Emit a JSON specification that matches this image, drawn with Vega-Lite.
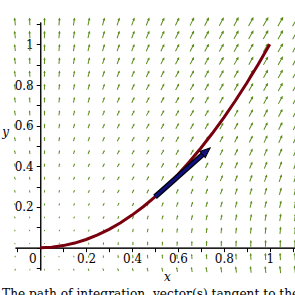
{
"$schema":"https://vega.github.io/schema/vega-lite/v6.json",
"width":280,"height":248,
"autosize":"none",
"padding":{"left":15,"top":22,"right":0,"bottom":25},
"config":{"view":{"stroke":null},"font":"DejaVu Serif"},
"title":{"text":"The path of integration, vector(s) tangent to the path, and the vector field","orient":"bottom","anchor":"start","frame":"group","dx":-13,"offset":5,"font":"DejaVu Serif","fontSize":12.2,"fontWeight":"normal","color":"black","baseline":"top"},
"resolve":{"axis":{"x":"independent","y":"independent"}},
"layer":[
{"data":{"values":[
{"x":-0.11,"y":-0.11,"a":29.5,"m":0.0271},{"x":-0.0458,"y":-0.11,"a":21.8,"m":0.0151},{"x":0.0184,"y":-0.11,"a":-10.4,"m":0.0126},{"x":0.0826,"y":-0.11,"a":-28.5,"m":0.021},{"x":0.1468,"y":-0.11,"a":-28.5,"m":0.0373},{"x":0.2111,"y":-0.11,"a":-24.9,"m":0.0612},{"x":0.2753,"y":-0.11,"a":-21.3,"m":0.093},{"x":0.3395,"y":-0.11,"a":-18.3,"m":0.1327},{"x":0.4037,"y":-0.11,"a":-15.9,"m":0.1803},{"x":0.4679,"y":-0.11,"a":-14.1,"m":0.2366},{"x":0.5321,"y":-0.11,"a":-12.6,"m":0.3008},{"x":0.5963,"y":-0.11,"a":-11.4,"m":0.3736},{"x":0.6605,"y":-0.11,"a":-10.4,"m":0.4542},{"x":0.7247,"y":-0.11,"a":-9.5,"m":0.5432},{"x":0.7889,"y":-0.11,"a":-8.8,"m":0.6402},{"x":0.8532,"y":-0.11,"a":-8.2,"m":0.746},{"x":0.9174,"y":-0.11,"a":-7.6,"m":0.8597},{"x":0.9816,"y":-0.11,"a":-7.1,"m":0.9815},{"x":1.0458,"y":-0.11,"a":-6.7,"m":1.1116},{"x":1.11,"y":-0.11,"a":-6.3,"m":1.2504},
{"x":-0.11,"y":-0.0458,"a":21.8,"m":0.0151},{"x":-0.0458,"y":-0.0458,"a":29.5,"m":0.0047},{"x":0.0184,"y":-0.0458,"a":-21.4,"m":0.0026},{"x":0.0826,"y":-0.0458,"a":-25.7,"m":0.0097},{"x":0.1468,"y":-0.0458,"a":-17.8,"m":0.0246},{"x":0.2111,"y":-0.0458,"a":-13.2,"m":0.0476},{"x":0.2753,"y":-0.0458,"a":-10.3,"m":0.0789},{"x":0.3395,"y":-0.0458,"a":-8.5,"m":0.1184},{"x":0.4037,"y":-0.0458,"a":-7.2,"m":0.1662},{"x":0.4679,"y":-0.0458,"a":-6.3,"m":0.2221},{"x":0.5321,"y":-0.0458,"a":-5.5,"m":0.2863},{"x":0.5963,"y":-0.0458,"a":-4.9,"m":0.3587},{"x":0.6605,"y":-0.0458,"a":-4.5,"m":0.4394},{"x":0.7247,"y":-0.0458,"a":-4.1,"m":0.5283},{"x":0.7889,"y":-0.0458,"a":-3.8,"m":0.6255},{"x":0.8532,"y":-0.0458,"a":-3.5,"m":0.7311},{"x":0.9174,"y":-0.0458,"a":-3.2,"m":0.8447},{"x":0.9816,"y":-0.0458,"a":-3.0,"m":0.9667},{"x":1.0458,"y":-0.0458,"a":-2.8,"m":1.097},{"x":1.11,"y":-0.0458,"a":-2.7,"m":1.2353},
{"x":-0.11,"y":0.0184,"a":-10.4,"m":0.0126},{"x":-0.0458,"y":0.0184,"a":-21.4,"m":0.0026},{"x":0.0184,"y":0.0184,"a":29.5,"m":0.0008},{"x":0.0826,"y":0.0184,"a":13.5,"m":0.0073},{"x":0.1468,"y":0.0184,"a":8.0,"m":0.022},{"x":0.2111,"y":0.0184,"a":5.6,"m":0.045},{"x":0.2753,"y":0.0184,"a":4.3,"m":0.0763},{"x":0.3395,"y":0.0184,"a":3.5,"m":0.1158},{"x":0.4037,"y":0.0184,"a":3.0,"m":0.1635},{"x":0.4679,"y":0.0184,"a":2.5,"m":0.2195},{"x":0.5321,"y":0.0184,"a":2.2,"m":0.2835},{"x":0.5963,"y":0.0184,"a":2.0,"m":0.3559},{"x":0.6605,"y":0.0184,"a":1.8,"m":0.4366},{"x":0.7247,"y":0.0184,"a":1.6,"m":0.5255},{"x":0.7889,"y":0.0184,"a":1.5,"m":0.6227},{"x":0.8532,"y":0.0184,"a":1.4,"m":0.7283},{"x":0.9174,"y":0.0184,"a":1.3,"m":0.842},{"x":0.9816,"y":0.0184,"a":1.2,"m":0.9639},{"x":1.0458,"y":0.0184,"a":1.1,"m":1.094},{"x":1.11,"y":0.0184,"a":1.1,"m":1.2324},
{"x":-0.11,"y":0.0826,"a":-28.5,"m":0.021},{"x":-0.0458,"y":0.0826,"a":-25.7,"m":0.0097},{"x":0.0184,"y":0.0826,"a":13.5,"m":0.0073},{"x":0.0826,"y":0.0826,"a":29.5,"m":0.0152},{"x":0.1468,"y":0.0826,"a":25.9,"m":0.0308},{"x":0.2111,"y":0.0826,"a":21.0,"m":0.0542},{"x":0.2753,"y":0.0826,"a":17.3,"m":0.0857},{"x":0.3395,"y":0.0826,"a":14.6,"m":0.1253},{"x":0.4037,"y":0.0826,"a":12.5,"m":0.173},{"x":0.4679,"y":0.0826,"a":11.0,"m":0.2291},{"x":0.5321,"y":0.0826,"a":9.7,"m":0.2934},{"x":0.5963,"y":0.0826,"a":8.7,"m":0.3657},{"x":0.6605,"y":0.0826,"a":7.9,"m":0.4466},{"x":0.7247,"y":0.0826,"a":7.2,"m":0.5353},{"x":0.7889,"y":0.0826,"a":6.7,"m":0.633},{"x":0.8532,"y":0.0826,"a":6.2,"m":0.7382},{"x":0.9174,"y":0.0826,"a":5.8,"m":0.8519},{"x":0.9816,"y":0.0826,"a":5.4,"m":0.9738},{"x":1.0458,"y":0.0826,"a":5.1,"m":1.1039},{"x":1.11,"y":0.0826,"a":4.8,"m":1.2423},
{"x":-0.11,"y":0.1468,"a":-28.5,"m":0.0373},{"x":-0.0458,"y":0.1468,"a":-17.8,"m":0.0246},{"x":0.0184,"y":0.1468,"a":8.0,"m":0.022},{"x":0.0826,"y":0.1468,"a":25.9,"m":0.0308},{"x":0.1468,"y":0.1468,"a":29.5,"m":0.0482},{"x":0.2111,"y":0.1468,"a":27.9,"m":0.0729},{"x":0.2753,"y":0.1468,"a":25.2,"m":0.1053},{"x":0.3395,"y":0.1468,"a":22.4,"m":0.1457},{"x":0.4037,"y":0.1468,"a":20.0,"m":0.1936},{"x":0.4679,"y":0.1468,"a":17.9,"m":0.2501},{"x":0.5321,"y":0.1468,"a":16.1,"m":0.3144},{"x":0.5963,"y":0.1468,"a":14.7,"m":0.3866},{"x":0.6605,"y":0.1468,"a":13.5,"m":0.4679},{"x":0.7247,"y":0.1468,"a":12.5,"m":0.5566},{"x":0.7889,"y":0.1468,"a":11.6,"m":0.6542},{"x":0.8532,"y":0.1468,"a":10.7,"m":0.76},{"x":0.9174,"y":0.1468,"a":10.0,"m":0.8735},{"x":0.9816,"y":0.1468,"a":9.4,"m":0.9959},{"x":1.0458,"y":0.1468,"a":8.8,"m":1.1264},{"x":1.11,"y":0.1468,"a":8.3,"m":1.2649},
{"x":-0.11,"y":0.2111,"a":-24.9,"m":0.0612},{"x":-0.0458,"y":0.2111,"a":-13.2,"m":0.0476},{"x":0.0184,"y":0.2111,"a":5.6,"m":0.045},{"x":0.0826,"y":0.2111,"a":21.0,"m":0.0542},{"x":0.1468,"y":0.2111,"a":27.9,"m":0.0729},{"x":0.2111,"y":0.2111,"a":29.5,"m":0.0996},{"x":0.2753,"y":0.2111,"a":28.7,"m":0.1336},{"x":0.3395,"y":0.2111,"a":26.9,"m":0.1752},{"x":0.4037,"y":0.2111,"a":24.9,"m":0.2243},{"x":0.4679,"y":0.2111,"a":23.0,"m":0.2811},{"x":0.5321,"y":0.2111,"a":21.2,"m":0.3464},{"x":0.5963,"y":0.2111,"a":19.7,"m":0.4193},{"x":0.6605,"y":0.2111,"a":18.1,"m":0.5005},{"x":0.7247,"y":0.2111,"a":16.9,"m":0.5897},{"x":0.7889,"y":0.2111,"a":15.8,"m":0.6869},{"x":0.8532,"y":0.2111,"a":14.8,"m":0.7926},{"x":0.9174,"y":0.2111,"a":13.9,"m":0.9066},{"x":0.9816,"y":0.2111,"a":13.1,"m":1.0283},{"x":1.0458,"y":0.2111,"a":12.4,"m":1.1587},{"x":1.11,"y":0.2111,"a":11.8,"m":1.2984},
{"x":-0.11,"y":0.2753,"a":-21.3,"m":0.093},{"x":-0.0458,"y":0.2753,"a":-10.3,"m":0.0789},{"x":0.0184,"y":0.2753,"a":4.3,"m":0.0763},{"x":0.0826,"y":0.2753,"a":17.3,"m":0.0857},{"x":0.1468,"y":0.2753,"a":25.2,"m":0.1053},{"x":0.2111,"y":0.2753,"a":28.7,"m":0.1336},{"x":0.2753,"y":0.2753,"a":29.5,"m":0.1695},{"x":0.3395,"y":0.2753,"a":28.9,"m":0.2126},{"x":0.4037,"y":0.2753,"a":27.7,"m":0.2631},{"x":0.4679,"y":0.2753,"a":26.4,"m":0.3215},{"x":0.5321,"y":0.2753,"a":24.8,"m":0.3876},{"x":0.5963,"y":0.2753,"a":23.3,"m":0.4616},{"x":0.6605,"y":0.2753,"a":21.9,"m":0.5433},{"x":0.7247,"y":0.2753,"a":20.5,"m":0.6334},{"x":0.7889,"y":0.2753,"a":19.5,"m":0.731},{"x":0.8532,"y":0.2753,"a":18.3,"m":0.8367},{"x":0.9174,"y":0.2753,"a":17.3,"m":0.9514},{"x":0.9816,"y":0.2753,"a":16.4,"m":1.0736},{"x":1.0458,"y":0.2753,"a":15.6,"m":1.2034},{"x":1.11,"y":0.2753,"a":14.8,"m":1.3419},
{"x":-0.11,"y":0.3395,"a":-18.3,"m":0.1327},{"x":-0.0458,"y":0.3395,"a":-8.5,"m":0.1184},{"x":0.0184,"y":0.3395,"a":3.5,"m":0.1158},{"x":0.0826,"y":0.3395,"a":14.6,"m":0.1253},{"x":0.1468,"y":0.3395,"a":22.4,"m":0.1457},{"x":0.2111,"y":0.3395,"a":26.9,"m":0.1752},{"x":0.2753,"y":0.3395,"a":28.9,"m":0.2126},{"x":0.3395,"y":0.3395,"a":29.5,"m":0.2577},{"x":0.4037,"y":0.3395,"a":29.2,"m":0.3099},{"x":0.4679,"y":0.3395,"a":28.3,"m":0.3699},{"x":0.5321,"y":0.3395,"a":27.2,"m":0.437},{"x":0.5963,"y":0.3395,"a":26.0,"m":0.5123},{"x":0.6605,"y":0.3395,"a":24.8,"m":0.5951},{"x":0.7247,"y":0.3395,"a":23.5,"m":0.6859},{"x":0.7889,"y":0.3395,"a":22.4,"m":0.7848},{"x":0.8532,"y":0.3395,"a":21.2,"m":0.8921},{"x":0.9174,"y":0.3395,"a":20.2,"m":1.0066},{"x":0.9816,"y":0.3395,"a":19.4,"m":1.1284},{"x":1.0458,"y":0.3395,"a":18.4,"m":1.2597},{"x":1.11,"y":0.3395,"a":17.6,"m":1.3986},
{"x":-0.11,"y":0.4037,"a":-15.9,"m":0.1803},{"x":-0.0458,"y":0.4037,"a":-7.2,"m":0.1662},{"x":0.0184,"y":0.4037,"a":3.0,"m":0.1635},{"x":0.0826,"y":0.4037,"a":12.5,"m":0.173},{"x":0.1468,"y":0.4037,"a":20.0,"m":0.1936},{"x":0.2111,"y":0.4037,"a":24.9,"m":0.2243},{"x":0.2753,"y":0.4037,"a":27.7,"m":0.2631},{"x":0.3395,"y":0.4037,"a":29.2,"m":0.3099},{"x":0.4037,"y":0.4037,"a":29.5,"m":0.3644},{"x":0.4679,"y":0.4037,"a":29.2,"m":0.4258},{"x":0.5321,"y":0.4037,"a":28.6,"m":0.4947},{"x":0.5963,"y":0.4037,"a":27.7,"m":0.5714},{"x":0.6605,"y":0.4037,"a":26.8,"m":0.6556},{"x":0.7247,"y":0.4037,"a":25.8,"m":0.748},{"x":0.7889,"y":0.4037,"a":24.7,"m":0.8474},{"x":0.8532,"y":0.4037,"a":23.6,"m":0.9551},{"x":0.9174,"y":0.4037,"a":22.7,"m":1.0709},{"x":0.9816,"y":0.4037,"a":21.7,"m":1.1941},{"x":1.0458,"y":0.4037,"a":20.8,"m":1.327},{"x":1.11,"y":0.4037,"a":20.0,"m":1.4662},
{"x":-0.11,"y":0.4679,"a":-14.1,"m":0.2366},{"x":-0.0458,"y":0.4679,"a":-6.3,"m":0.2221},{"x":0.0184,"y":0.4679,"a":2.5,"m":0.2195},{"x":0.0826,"y":0.4679,"a":11.0,"m":0.2291},{"x":0.1468,"y":0.4679,"a":17.9,"m":0.2501},{"x":0.2111,"y":0.4679,"a":23.0,"m":0.2811},{"x":0.2753,"y":0.4679,"a":26.4,"m":0.3215},{"x":0.3395,"y":0.4679,"a":28.3,"m":0.3699},{"x":0.4037,"y":0.4679,"a":29.2,"m":0.4258},{"x":0.4679,"y":0.4679,"a":29.5,"m":0.4895},{"x":0.5321,"y":0.4679,"a":29.3,"m":0.5603},{"x":0.5963,"y":0.4679,"a":28.8,"m":0.6383},{"x":0.6605,"y":0.4679,"a":28.1,"m":0.724},{"x":0.7247,"y":0.4679,"a":27.3,"m":0.8178},{"x":0.7889,"y":0.4679,"a":26.5,"m":0.9187},{"x":0.8532,"y":0.4679,"a":25.6,"m":1.0274},{"x":0.9174,"y":0.4679,"a":24.7,"m":1.1443},{"x":0.9816,"y":0.4679,"a":23.8,"m":1.2688},{"x":1.0458,"y":0.4679,"a":22.9,"m":1.4006},{"x":1.11,"y":0.4679,"a":22.0,"m":1.541},
{"x":-0.11,"y":0.5321,"a":-12.6,"m":0.3008},{"x":-0.0458,"y":0.5321,"a":-5.5,"m":0.2863},{"x":0.0184,"y":0.5321,"a":2.2,"m":0.2835},{"x":0.0826,"y":0.5321,"a":9.7,"m":0.2934},{"x":0.1468,"y":0.5321,"a":16.1,"m":0.3144},{"x":0.2111,"y":0.5321,"a":21.2,"m":0.3464},{"x":0.2753,"y":0.5321,"a":24.8,"m":0.3876},{"x":0.3395,"y":0.5321,"a":27.2,"m":0.437},{"x":0.4037,"y":0.5321,"a":28.6,"m":0.4947},{"x":0.4679,"y":0.5321,"a":29.3,"m":0.5603},{"x":0.5321,"y":0.5321,"a":29.5,"m":0.6331},{"x":0.5963,"y":0.5321,"a":29.4,"m":0.7134},{"x":0.6605,"y":0.5321,"a":28.9,"m":0.8},{"x":0.7247,"y":0.5321,"a":28.4,"m":0.8948},{"x":0.7889,"y":0.5321,"a":27.7,"m":0.9969},{"x":0.8532,"y":0.5321,"a":26.9,"m":1.1071},{"x":0.9174,"y":0.5321,"a":26.2,"m":1.226},{"x":0.9816,"y":0.5321,"a":25.4,"m":1.3514},{"x":1.0458,"y":0.5321,"a":24.6,"m":1.4842},{"x":1.11,"y":0.5321,"a":23.8,"m":1.6258},
{"x":-0.11,"y":0.5963,"a":-11.4,"m":0.3736},{"x":-0.0458,"y":0.5963,"a":-4.9,"m":0.3587},{"x":0.0184,"y":0.5963,"a":2.0,"m":0.3559},{"x":0.0826,"y":0.5963,"a":8.7,"m":0.3657},{"x":0.1468,"y":0.5963,"a":14.7,"m":0.3866},{"x":0.2111,"y":0.5963,"a":19.7,"m":0.4193},{"x":0.2753,"y":0.5963,"a":23.3,"m":0.4616},{"x":0.3395,"y":0.5963,"a":26.0,"m":0.5123},{"x":0.4037,"y":0.5963,"a":27.7,"m":0.5714},{"x":0.4679,"y":0.5963,"a":28.8,"m":0.6383},{"x":0.5321,"y":0.5963,"a":29.4,"m":0.7134},{"x":0.5963,"y":0.5963,"a":29.5,"m":0.7951},{"x":0.6605,"y":0.5963,"a":29.4,"m":0.8845},{"x":0.7247,"y":0.5963,"a":29.0,"m":0.9803},{"x":0.7889,"y":0.5963,"a":28.5,"m":1.0845},{"x":0.8532,"y":0.5963,"a":28.0,"m":1.1962},{"x":0.9174,"y":0.5963,"a":27.4,"m":1.3157},{"x":0.9816,"y":0.5963,"a":26.7,"m":1.4431},{"x":1.0458,"y":0.5963,"a":26.0,"m":1.5783},{"x":1.11,"y":0.5963,"a":25.2,"m":1.7194},
{"x":-0.11,"y":0.6605,"a":-10.4,"m":0.4542},{"x":-0.0458,"y":0.6605,"a":-4.5,"m":0.4394},{"x":0.0184,"y":0.6605,"a":1.8,"m":0.4366},{"x":0.0826,"y":0.6605,"a":7.9,"m":0.4466},{"x":0.1468,"y":0.6605,"a":13.5,"m":0.4679},{"x":0.2111,"y":0.6605,"a":18.1,"m":0.5005},{"x":0.2753,"y":0.6605,"a":21.9,"m":0.5433},{"x":0.3395,"y":0.6605,"a":24.8,"m":0.5951},{"x":0.4037,"y":0.6605,"a":26.8,"m":0.6556},{"x":0.4679,"y":0.6605,"a":28.1,"m":0.724},{"x":0.5321,"y":0.6605,"a":28.9,"m":0.8},{"x":0.5963,"y":0.6605,"a":29.4,"m":0.8845},{"x":0.6605,"y":0.6605,"a":29.5,"m":0.9755},{"x":0.7247,"y":0.6605,"a":29.4,"m":1.0739},{"x":0.7889,"y":0.6605,"a":29.1,"m":1.1793},{"x":0.8532,"y":0.6605,"a":28.7,"m":1.2923},{"x":0.9174,"y":0.6605,"a":28.2,"m":1.4133},{"x":0.9816,"y":0.6605,"a":27.7,"m":1.5412},{"x":1.0458,"y":0.6605,"a":27.1,"m":1.6784},{"x":1.11,"y":0.6605,"a":26.5,"m":1.8218},
{"x":-0.11,"y":0.7247,"a":-9.5,"m":0.5432},{"x":-0.0458,"y":0.7247,"a":-4.1,"m":0.5283},{"x":0.0184,"y":0.7247,"a":1.6,"m":0.5255},{"x":0.0826,"y":0.7247,"a":7.2,"m":0.5353},{"x":0.1468,"y":0.7247,"a":12.5,"m":0.5566},{"x":0.2111,"y":0.7247,"a":16.9,"m":0.5897},{"x":0.2753,"y":0.7247,"a":20.5,"m":0.6334},{"x":0.3395,"y":0.7247,"a":23.5,"m":0.6859},{"x":0.4037,"y":0.7247,"a":25.8,"m":0.748},{"x":0.4679,"y":0.7247,"a":27.3,"m":0.8178},{"x":0.5321,"y":0.7247,"a":28.4,"m":0.8948},{"x":0.5963,"y":0.7247,"a":29.0,"m":0.9803},{"x":0.6605,"y":0.7247,"a":29.4,"m":1.0739},{"x":0.7247,"y":0.7247,"a":29.5,"m":1.1743},{"x":0.7889,"y":0.7247,"a":29.4,"m":1.2818},{"x":0.8532,"y":0.7247,"a":29.2,"m":1.3973},{"x":0.9174,"y":0.7247,"a":28.8,"m":1.5185},{"x":0.9816,"y":0.7247,"a":28.4,"m":1.648},{"x":1.0458,"y":0.7247,"a":27.9,"m":1.7856},{"x":1.11,"y":0.7247,"a":27.4,"m":1.933},
{"x":-0.11,"y":0.7889,"a":-8.8,"m":0.6402},{"x":-0.0458,"y":0.7889,"a":-3.8,"m":0.6255},{"x":0.0184,"y":0.7889,"a":1.5,"m":0.6227},{"x":0.0826,"y":0.7889,"a":6.7,"m":0.633},{"x":0.1468,"y":0.7889,"a":11.6,"m":0.6542},{"x":0.2111,"y":0.7889,"a":15.8,"m":0.6869},{"x":0.2753,"y":0.7889,"a":19.5,"m":0.731},{"x":0.3395,"y":0.7889,"a":22.4,"m":0.7848},{"x":0.4037,"y":0.7889,"a":24.7,"m":0.8474},{"x":0.4679,"y":0.7889,"a":26.5,"m":0.9187},{"x":0.5321,"y":0.7889,"a":27.7,"m":0.9969},{"x":0.5963,"y":0.7889,"a":28.5,"m":1.0845},{"x":0.6605,"y":0.7889,"a":29.1,"m":1.1793},{"x":0.7247,"y":0.7889,"a":29.4,"m":1.2818},{"x":0.7889,"y":0.7889,"a":29.5,"m":1.3916},{"x":0.8532,"y":0.7889,"a":29.4,"m":1.5083},{"x":0.9174,"y":0.7889,"a":29.2,"m":1.6323},{"x":0.9816,"y":0.7889,"a":28.9,"m":1.7635},{"x":1.0458,"y":0.7889,"a":28.5,"m":1.9031},{"x":1.11,"y":0.7889,"a":28.1,"m":2.0492},
{"x":-0.11,"y":0.8532,"a":-8.2,"m":0.746},{"x":-0.0458,"y":0.8532,"a":-3.5,"m":0.7311},{"x":0.0184,"y":0.8532,"a":1.4,"m":0.7283},{"x":0.0826,"y":0.8532,"a":6.2,"m":0.7382},{"x":0.1468,"y":0.8532,"a":10.7,"m":0.76},{"x":0.2111,"y":0.8532,"a":14.8,"m":0.7926},{"x":0.2753,"y":0.8532,"a":18.3,"m":0.8367},{"x":0.3395,"y":0.8532,"a":21.2,"m":0.8921},{"x":0.4037,"y":0.8532,"a":23.6,"m":0.9551},{"x":0.4679,"y":0.8532,"a":25.6,"m":1.0274},{"x":0.5321,"y":0.8532,"a":26.9,"m":1.1071},{"x":0.5963,"y":0.8532,"a":28.0,"m":1.1962},{"x":0.6605,"y":0.8532,"a":28.7,"m":1.2923},{"x":0.7247,"y":0.8532,"a":29.2,"m":1.3973},{"x":0.7889,"y":0.8532,"a":29.4,"m":1.5083},{"x":0.8532,"y":0.8532,"a":29.5,"m":1.6277},{"x":0.9174,"y":0.8532,"a":29.5,"m":1.7532},{"x":0.9816,"y":0.8532,"a":29.3,"m":1.886},{"x":1.0458,"y":0.8532,"a":29.0,"m":2.0275},{"x":1.11,"y":0.8532,"a":28.7,"m":2.1757},
{"x":-0.11,"y":0.9174,"a":-7.6,"m":0.8597},{"x":-0.0458,"y":0.9174,"a":-3.2,"m":0.8447},{"x":0.0184,"y":0.9174,"a":1.3,"m":0.842},{"x":0.0826,"y":0.9174,"a":5.8,"m":0.8519},{"x":0.1468,"y":0.9174,"a":10.0,"m":0.8735},{"x":0.2111,"y":0.9174,"a":13.9,"m":0.9066},{"x":0.2753,"y":0.9174,"a":17.3,"m":0.9514},{"x":0.3395,"y":0.9174,"a":20.2,"m":1.0066},{"x":0.4037,"y":0.9174,"a":22.7,"m":1.0709},{"x":0.4679,"y":0.9174,"a":24.7,"m":1.1443},{"x":0.5321,"y":0.9174,"a":26.2,"m":1.226},{"x":0.5963,"y":0.9174,"a":27.4,"m":1.3157},{"x":0.6605,"y":0.9174,"a":28.2,"m":1.4133},{"x":0.7247,"y":0.9174,"a":28.8,"m":1.5185},{"x":0.7889,"y":0.9174,"a":29.2,"m":1.6323},{"x":0.8532,"y":0.9174,"a":29.5,"m":1.7532},{"x":0.9174,"y":0.9174,"a":29.5,"m":1.8819},{"x":0.9816,"y":0.9174,"a":29.5,"m":2.0164},{"x":1.0458,"y":0.9174,"a":29.3,"m":2.1598},{"x":1.11,"y":0.9174,"a":29.1,"m":2.3081},
{"x":-0.11,"y":0.9816,"a":-7.1,"m":0.9815},{"x":-0.0458,"y":0.9816,"a":-3.0,"m":0.9667},{"x":0.0184,"y":0.9816,"a":1.2,"m":0.9639},{"x":0.0826,"y":0.9816,"a":5.4,"m":0.9738},{"x":0.1468,"y":0.9816,"a":9.4,"m":0.9959},{"x":0.2111,"y":0.9816,"a":13.1,"m":1.0283},{"x":0.2753,"y":0.9816,"a":16.4,"m":1.0736},{"x":0.3395,"y":0.9816,"a":19.4,"m":1.1284},{"x":0.4037,"y":0.9816,"a":21.7,"m":1.1941},{"x":0.4679,"y":0.9816,"a":23.8,"m":1.2688},{"x":0.5321,"y":0.9816,"a":25.4,"m":1.3514},{"x":0.5963,"y":0.9816,"a":26.7,"m":1.4431},{"x":0.6605,"y":0.9816,"a":27.7,"m":1.5412},{"x":0.7247,"y":0.9816,"a":28.4,"m":1.648},{"x":0.7889,"y":0.9816,"a":28.9,"m":1.7635},{"x":0.8532,"y":0.9816,"a":29.3,"m":1.886},{"x":0.9174,"y":0.9816,"a":29.5,"m":2.0164},{"x":0.9816,"y":0.9816,"a":29.5,"m":2.1545},{"x":1.0458,"y":0.9816,"a":29.5,"m":2.298},{"x":1.11,"y":0.9816,"a":29.3,"m":2.4503},
{"x":-0.11,"y":1.0458,"a":-6.7,"m":1.1116},{"x":-0.0458,"y":1.0458,"a":-2.8,"m":1.097},{"x":0.0184,"y":1.0458,"a":1.1,"m":1.094},{"x":0.0826,"y":1.0458,"a":5.1,"m":1.1039},{"x":0.1468,"y":1.0458,"a":8.8,"m":1.1264},{"x":0.2111,"y":1.0458,"a":12.4,"m":1.1587},{"x":0.2753,"y":1.0458,"a":15.6,"m":1.2034},{"x":0.3395,"y":1.0458,"a":18.4,"m":1.2597},{"x":0.4037,"y":1.0458,"a":20.8,"m":1.327},{"x":0.4679,"y":1.0458,"a":22.9,"m":1.4006},{"x":0.5321,"y":1.0458,"a":24.6,"m":1.4842},{"x":0.5963,"y":1.0458,"a":26.0,"m":1.5783},{"x":0.6605,"y":1.0458,"a":27.1,"m":1.6784},{"x":0.7247,"y":1.0458,"a":27.9,"m":1.7856},{"x":0.7889,"y":1.0458,"a":28.5,"m":1.9031},{"x":0.8532,"y":1.0458,"a":29.0,"m":2.0275},{"x":0.9174,"y":1.0458,"a":29.3,"m":2.1598},{"x":0.9816,"y":1.0458,"a":29.5,"m":2.298},{"x":1.0458,"y":1.0458,"a":29.5,"m":2.4455},{"x":1.11,"y":1.0458,"a":29.5,"m":2.5979},
{"x":-0.11,"y":1.11,"a":-6.3,"m":1.2504},{"x":-0.0458,"y":1.11,"a":-2.7,"m":1.2353},{"x":0.0184,"y":1.11,"a":1.1,"m":1.2324},{"x":0.0826,"y":1.11,"a":4.8,"m":1.2423},{"x":0.1468,"y":1.11,"a":8.3,"m":1.2649},{"x":0.2111,"y":1.11,"a":11.8,"m":1.2984},{"x":0.2753,"y":1.11,"a":14.8,"m":1.3419},{"x":0.3395,"y":1.11,"a":17.6,"m":1.3986},{"x":0.4037,"y":1.11,"a":20.0,"m":1.4662},{"x":0.4679,"y":1.11,"a":22.0,"m":1.541},{"x":0.5321,"y":1.11,"a":23.8,"m":1.6258},{"x":0.5963,"y":1.11,"a":25.2,"m":1.7194},{"x":0.6605,"y":1.11,"a":26.5,"m":1.8218},{"x":0.7247,"y":1.11,"a":27.4,"m":1.933},{"x":0.7889,"y":1.11,"a":28.1,"m":2.0492},{"x":0.8532,"y":1.11,"a":28.7,"m":2.1757},{"x":0.9174,"y":1.11,"a":29.1,"m":2.3081},{"x":0.9816,"y":1.11,"a":29.3,"m":2.4503},{"x":1.0458,"y":1.11,"a":29.5,"m":2.5979},{"x":1.11,"y":1.11,"a":29.5,"m":2.755}
]},
"mark":{"type":"point","shape":"M0,1L0,-1M-0.25,-0.5L0,-1L0.25,-0.5","filled":false,"color":"#5b8c1a","strokeWidth":1,"opacity":1},
"encoding":{
"x":{"field":"x","type":"quantitative","scale":{"domain":[-0.11,1.11],"nice":false,"zero":false},
"axis":{"orient":"bottom","offset":-22.35,"values":[0,0.2,0.4,0.6,0.8,1],"format":".1~f","labelOffset":{"condition":{"test":"datum.value == 0","value":-8},"value":0},"tickSize":4,"labelPadding":2,"labelFont":"DejaVu Serif","labelFontSize":12,"labelColor":"black","domainColor":"black","tickColor":"black","grid":false,"labelOverlap":false,"labelFlush":false,"title":"x","titleFont":"DejaVu Serif","titleFontStyle":"italic","titleFontWeight":"normal","titleFontSize":12,"titleColor":"black","titleX":152,"titleY":33,"titleAlign":"center","titleBaseline":"alphabetic"}},
"y":{"field":"y","type":"quantitative","scale":{"domain":[-0.11,1.11],"nice":false,"zero":false},
"axis":{"orient":"left","offset":-25.25,"values":[0.2,0.4,0.6,0.8,1],"format":".1~f","tickSize":4,"labelPadding":3,"labelFont":"DejaVu Serif","labelFontSize":12,"labelColor":"black","domainColor":"black","tickColor":"black","grid":false,"labelOverlap":false,"labelFlush":false,"title":"y","titleAngle":0,"titleFont":"DejaVu Serif","titleFontStyle":"italic","titleFontWeight":"normal","titleFontSize":12,"titleColor":"black","titleX":-35,"titleY":113,"titleAlign":"center","titleBaseline":"alphabetic"}},
"angle":{"field":"a","type":"quantitative","scale":null},
"size":{"field":"m","type":"quantitative","scale":{"domain":[0,2.755],"range":[0,100]},"legend":null}
}},
{"data":{"values":[{"x":0,"y":0},{"x":0.05,"y":0.0025},{"x":0.1,"y":0.01},{"x":0.15,"y":0.0225},{"x":0.2,"y":0.04},{"x":0.25,"y":0.0625},{"x":0.3,"y":0.09},{"x":0.35,"y":0.1225},{"x":0.4,"y":0.16},{"x":0.45,"y":0.2025},{"x":0.5,"y":0.25},{"x":0.55,"y":0.3025},{"x":0.6,"y":0.36},{"x":0.65,"y":0.4225},{"x":0.7,"y":0.49},{"x":0.75,"y":0.5625},{"x":0.8,"y":0.64},{"x":0.85,"y":0.7225},{"x":0.9,"y":0.81},{"x":0.95,"y":0.9025},{"x":1,"y":1}]},
"mark":{"type":"line","color":"#78000E","strokeWidth":3},
"encoding":{"x":{"field":"x","type":"quantitative","axis":{"orient":"bottom","offset":-22.35,"values":[-0.1,0.1,0.3,0.5,0.7,0.9,1.1],"labels":false,"tickSize":4,"domainColor":"black","tickColor":"black","grid":false,"title":null}},"y":{"field":"y","type":"quantitative","axis":{"orient":"left","offset":-25.25,"values":[-0.1,0,0.1,0.3,0.5,0.7,0.9,1.1],"labels":false,"tickSize":4,"domainColor":"black","tickColor":"black","grid":false,"title":null}}}},
{"data":{"values":[{"x":0.5,"y":0.25,"x2":0.708,"y2":0.458}]},
"mark":{"type":"rule","color":"black","strokeWidth":5.5},
"encoding":{"x":{"field":"x","type":"quantitative","axis":null},"y":{"field":"y","type":"quantitative","axis":null},"x2":{"field":"x2"},"y2":{"field":"y2"}}},
{"data":{"values":[{"x":0.5,"y":0.25,"x2":0.708,"y2":0.458}]},
"mark":{"type":"rule","color":"#10107f","strokeWidth":3},
"encoding":{"x":{"field":"x","type":"quantitative","axis":null},"y":{"field":"y","type":"quantitative","axis":null},"x2":{"field":"x2"},"y2":{"field":"y2"}}},
{"data":{"values":[{"x":0.7196,"y":0.47}]},
"mark":{"type":"point","shape":"M0,-1L0.65,0.6L-0.65,0.6Z","filled":true,"fill":"#10107f","stroke":"black","strokeWidth":1,"size":156,"angle":48.6,"opacity":1},
"encoding":{"x":{"field":"x","type":"quantitative","axis":null},"y":{"field":"y","type":"quantitative","axis":null}}}
]
}
